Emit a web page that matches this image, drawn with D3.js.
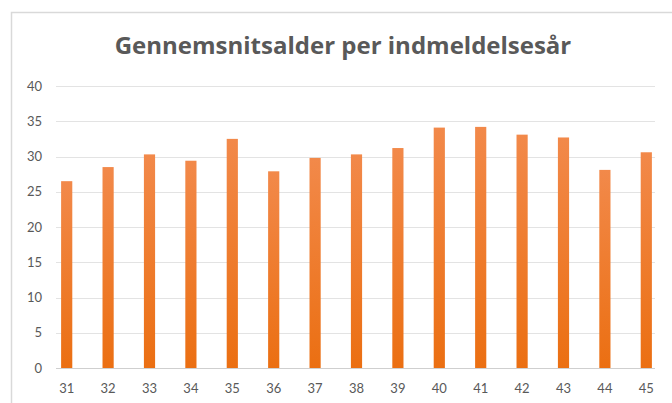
<!DOCTYPE html>
<html><head><meta charset="utf-8">
<script src="https://cdn.jsdelivr.net/npm/d3@7"></script>
<style>body{margin:0;background:#fff}svg{display:block}</style>
</head><body><svg id="c" width="672" height="403"></svg>
<script>
const categories = ["31","32","33","34","35","36","37","38","39","40","41","42","43","44","45"];
const values = [26.5, 28.5, 30.3, 29.4, 32.5, 27.9, 29.8, 30.3, 31.2, 34.1, 34.2, 33.1, 32.7, 28.1, 30.6];
const yTicks = [0,5,10,15,20,25,30,35,40];
const title = "Gennemsnitsalder per indmeldelsesår";

const svg = d3.select("#c");
const defs = svg.append("defs");
const g = defs.append("linearGradient").attr("id","bar").attr("x1",0).attr("y1",0).attr("x2",0).attr("y2",1);
g.append("stop").attr("offset","0%").attr("stop-color","#F2894A");
g.append("stop").attr("offset","100%").attr("stop-color","#EB6F12");

// chart border
svg.append("rect").attr("x",11.5).attr("y",12.5).attr("width",700).attr("height",420)
  .attr("fill","#fff").attr("stroke","#d9d9d9").attr("stroke-width",1.5);

const y = d3.scaleLinear().domain([0,40]).range([368,86]);
const x = d3.scaleBand().domain(categories).range([46,667]).paddingInner(0.73).paddingOuter(0.365);

// gridlines
svg.append("g").selectAll("line").data(yTicks).join("line")
  .attr("x1",56).attr("x2",655).attr("y1",d=>Math.round(y(d))+0.5).attr("y2",d=>Math.round(y(d))+0.5)
  .attr("stroke",d=>d===0?"#cfcfcf":"#e3e3e3").attr("stroke-width",1.2);

// y axis labels
const ya = svg.append("g").attr("transform","translate(42,0)")
  .call(d3.axisLeft(y).tickValues(yTicks).tickSize(0).tickPadding(0));
ya.select(".domain").remove();
ya.selectAll("text").attr("font-family","Lato, 'Open Sans', sans-serif").attr("font-size",13).attr("fill","#595959");

// bars
svg.append("g").selectAll("rect").data(values).join("rect")
  .attr("x",(d,i)=>x(categories[i])).attr("width",x.bandwidth())
  .attr("y",d=>y(d)).attr("height",d=>y(0)-y(d)).attr("fill","url(#bar)");

// x axis labels
const xa = svg.append("g").attr("transform","translate(0,384)")
  .call(d3.axisBottom(x).tickSize(0).tickPadding(0));
xa.select(".domain").remove();
xa.selectAll("text").attr("font-family","Lato, 'Open Sans', sans-serif").attr("font-size",13).attr("fill","#595959");

svg.append("text").attr("x",343).attr("y",53.5).attr("text-anchor","middle")
  .attr("font-family","'Open Sans', Lato, sans-serif").attr("font-weight","bold").attr("font-size",24)
  .attr("fill","#595959").text(title);
</script></body></html>
